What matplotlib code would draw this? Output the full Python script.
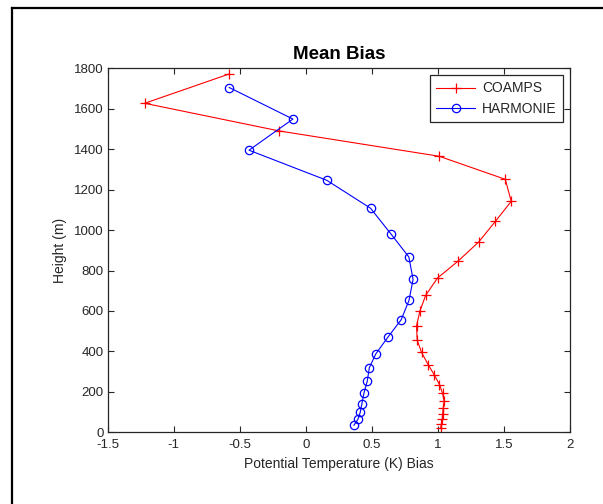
import matplotlib
matplotlib.use("Agg")
import matplotlib.pyplot as plt
from matplotlib.lines import Line2D

plt.rcParams["font.family"] = ["Liberation Sans", "DejaVu Sans"]

# mean potential temperature bias profiles (K) against height (m)
coamps_height = [1772, 1627, 1490, 1365, 1251, 1142, 1043, 942, 845, 763,
                 677, 598, 526, 456, 395, 335, 282, 236, 193, 154,
                 119, 91, 64, 41, 20]
coamps_bias = [-0.58, -1.22, -0.20, 1.01, 1.51, 1.555, 1.435, 1.31, 1.15, 0.997,
               0.907, 0.863, 0.838, 0.843, 0.876, 0.926, 0.974, 1.012, 1.035, 1.047,
               1.04, 1.036, 1.032, 1.027, 1.02]

harmonie_height = [1705, 1549, 1395, 1246, 1108, 982, 867, 756, 652, 557,
                   471, 388, 320, 253, 194, 140, 99, 65, 35]
harmonie_bias = [-0.58, -0.098, -0.43, 0.159, 0.49, 0.643, 0.78, 0.812, 0.781, 0.722,
                 0.622, 0.53, 0.481, 0.465, 0.44, 0.424, 0.412, 0.395, 0.364]

x_ticks = [-1.5, -1, -0.5, 0, 0.5, 1, 1.5, 2]
x_tick_labels = ["-1.5", "-1", "-0.5", "0", "0.5", "1", "1.5", "2"]
y_ticks = [0, 200, 400, 600, 800, 1000, 1200, 1400, 1600, 1800]

W, H = 603, 504
fig = plt.figure(figsize=(W / 100, H / 100), dpi=100)
ax = fig.add_axes([107.7 / W, 1 - 432.3 / H, 462.3 / W, 364 / H])

ink = "#262626"
ax.plot(coamps_bias, coamps_height, color="red", lw=0.8, marker="+",
        ms=7, mew=0.9, label="COAMPS")
ax.plot(harmonie_bias, harmonie_height, color="blue", lw=0.8, marker="o",
        ms=6, mfc="none", mew=0.9, label="HARMONIE")

ax.set_xlim(-1.5, 2)
ax.set_ylim(0, 1800)
ax.set_xticks(x_ticks)
ax.set_xticklabels(x_tick_labels)
ax.set_yticks(y_ticks)
ax.tick_params(direction="in", length=4.5, width=0.8, colors=ink,
               labelsize=9.5, top=True, right=True)
ax.tick_params(axis="x", pad=5)
ax.tick_params(axis="y", pad=3)
for s in ax.spines.values():
    s.set_color(ink)
    s.set_linewidth(0.9)

ax.set_title("Mean Bias", fontsize=13.5, fontweight="bold", pad=7)
ax.set_xlabel("Potential Temperature (K) Bias", fontsize=10, color=ink, labelpad=4)
ax.set_ylabel("Height (m)", fontsize=10, color=ink, labelpad=5)

leg = ax.legend(loc="upper right", fontsize=10, fancybox=False, framealpha=1,
                edgecolor=ink, borderaxespad=0.5, handlelength=2.8,
                labelspacing=0.45, borderpad=0.45, handletextpad=0.5)
leg.get_frame().set_linewidth(0.9)
for t in leg.get_texts():
    t.set_color(ink)

# black frame round the figure on its left and top sides
fig.add_artist(Line2D([12 / W, 12 / W], [0, 1 - 8 / H], transform=fig.transFigure,
                      color="black", lw=1.6))
fig.add_artist(Line2D([12 / W, 1], [1 - 8 / H, 1 - 8 / H], transform=fig.transFigure,
                      color="black", lw=1.6))

fig.savefig("out.png", dpi=100)
